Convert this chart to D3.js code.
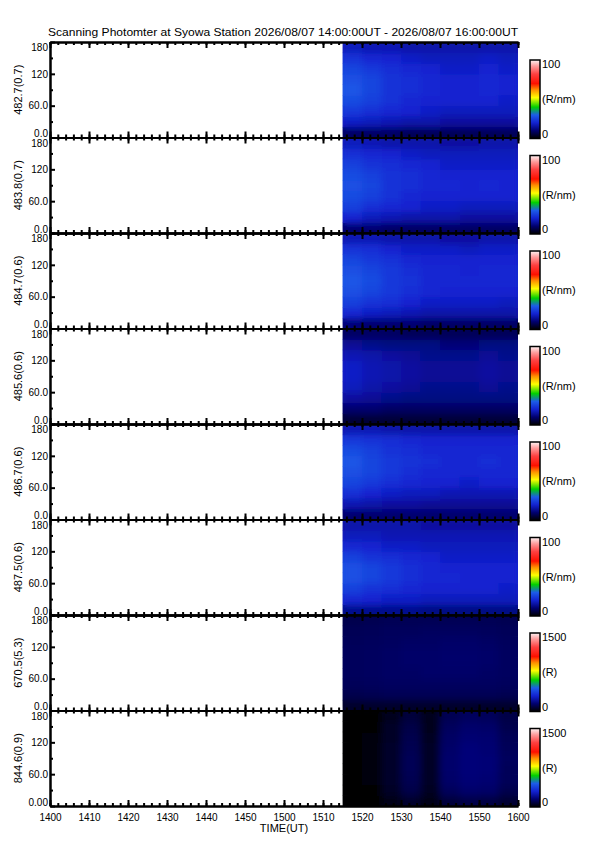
<!DOCTYPE html>
<html>
<head>
<meta charset="utf-8">
<script src="https://cdn.jsdelivr.net/npm/d3@7"></script>
<style>
  body { margin: 0; background: #fff; }
  text { font-family: "Liberation Sans", Arial, sans-serif; fill: #000; }
</style>
</head>
<body>
<div id="chart"></div>
<script>

const titleText = "Scanning Photomter at Syowa Station  2026/08/07 14:00:00UT - 2026/08/07 16:00:00UT";
const panelNames = ["482.7(0.7)", "483.8(0.7)", "484.7(0.6)", "485.6(0.6)", "486.7(0.6)", "487.5(0.6)", "670.5(5.3)", "844.6(0.9)"];
const panelUnits = ["(R/nm)", "(R/nm)", "(R/nm)", "(R/nm)", "(R/nm)", "(R/nm)", "(R)", "(R)"];
const panelMax = [100, 100, 100, 100, 100, 100, 1500, 1500];

// time bins (UT) and scan angle bins (deg)
const timeEdges = ["15:15", "15:20", "15:25", "15:30", "15:35", "15:40", "15:45", "15:50", "15:55", "16:00"];
const angleEdges = [0, 20, 40, 60, 80, 100, 120, 140, 160, 180];
const yTicks = [0, 60, 120, 180];
const yMinor = [30, 90, 150];

// rows: angle bin 0-20 first, cols: time bins
const p4827 = [
  [9, 9, 9, 8, 8, 8, 8, 8, 8],
  [19, 18, 17, 16, 16, 15, 15, 15, 15],
  [24, 22, 21, 20, 19, 18, 18, 18, 18],
  [27, 25, 23, 21, 20, 20, 20, 20, 19],
  [29, 26, 23, 22, 21, 20, 20, 21, 20],
  [28, 26, 23, 22, 21, 20, 20, 21, 20],
  [26, 24, 22, 21, 20, 19, 19, 20, 19],
  [23, 21, 20, 19, 18, 18, 18, 19, 18],
  [18, 17, 17, 16, 16, 16, 16, 16, 16]
];
const p4838 = [
  [10, 10, 9, 9, 9, 9, 9, 9, 9],
  [20, 18, 17, 16, 16, 16, 15, 15, 15],
  [25, 22, 21, 20, 19, 19, 18, 18, 18],
  [27, 25, 23, 21, 20, 20, 20, 20, 20],
  [28, 26, 23, 22, 21, 21, 20, 21, 20],
  [27, 25, 23, 22, 21, 20, 20, 20, 20],
  [25, 23, 22, 21, 20, 19, 19, 19, 19],
  [22, 21, 20, 19, 18, 18, 18, 18, 18],
  [18, 17, 16, 16, 16, 15, 15, 16, 16]
];
const p4847 = [
  [11, 10, 10, 10, 9, 9, 9, 9, 9],
  [21, 19, 18, 17, 16, 16, 16, 16, 16],
  [25, 23, 22, 20, 19, 19, 19, 19, 18],
  [28, 26, 24, 22, 21, 20, 20, 20, 20],
  [29, 27, 24, 23, 21, 21, 21, 21, 21],
  [28, 26, 24, 22, 21, 21, 20, 21, 21],
  [26, 24, 23, 21, 20, 20, 20, 20, 20],
  [23, 22, 20, 19, 19, 19, 18, 19, 19],
  [17, 17, 16, 16, 16, 15, 15, 16, 16]
];
const p4856 = [
  [5, 5, 5, 5, 5, 5, 5, 5, 5],
  [10, 10, 9, 9, 9, 9, 9, 9, 9],
  [15, 14, 13, 12, 12, 12, 12, 12, 12],
  [18, 16, 15, 14, 13, 13, 13, 14, 13],
  [19, 17, 16, 15, 14, 14, 14, 15, 14],
  [19, 17, 16, 15, 14, 14, 14, 15, 14],
  [17, 16, 15, 14, 13, 13, 13, 14, 13],
  [14, 13, 12, 12, 12, 11, 11, 12, 12],
  [9, 9, 9, 8, 8, 8, 8, 8, 8]
];
const p4867 = [
  [10, 10, 10, 10, 10, 10, 10, 10, 10],
  [17, 16, 15, 15, 14, 14, 14, 14, 14],
  [22, 20, 19, 18, 18, 17, 17, 17, 17],
  [26, 24, 22, 21, 20, 20, 19, 20, 20],
  [28, 26, 24, 22, 21, 21, 21, 21, 21],
  [29, 26, 24, 23, 22, 21, 21, 22, 21],
  [27, 25, 23, 22, 21, 21, 21, 21, 21],
  [24, 23, 22, 21, 20, 20, 20, 20, 20],
  [17, 17, 16, 16, 16, 16, 16, 16, 16]
];
const p4875 = [
  [13, 13, 13, 13, 12, 12, 12, 12, 12],
  [21, 20, 19, 19, 18, 18, 18, 18, 18],
  [25, 23, 22, 21, 20, 20, 20, 20, 19],
  [28, 26, 24, 22, 21, 21, 20, 20, 20],
  [28, 26, 24, 22, 21, 20, 20, 20, 20],
  [25, 23, 22, 21, 20, 19, 19, 19, 19],
  [21, 20, 19, 19, 18, 18, 18, 18, 18],
  [18, 18, 17, 17, 17, 17, 17, 17, 17],
  [16, 16, 16, 16, 15, 15, 15, 15, 15]
];
const p6705 = [
  [60, 60, 60, 60, 60, 60, 60, 60, 60],
  [105, 110, 115, 115, 115, 115, 115, 115, 110],
  [120, 125, 130, 130, 130, 130, 130, 130, 125],
  [125, 130, 135, 135, 140, 140, 140, 135, 130],
  [125, 130, 135, 140, 140, 145, 145, 140, 130],
  [125, 130, 135, 140, 140, 145, 145, 140, 130],
  [120, 125, 130, 135, 135, 140, 140, 135, 125],
  [115, 120, 125, 125, 130, 130, 130, 125, 120],
  [105, 110, 115, 115, 115, 115, 115, 115, 110]
];
const p8446 = [
  [5, 5, 30, 60, 25, 80, 95, 90, 70],
  [5, 8, 50, 100, 45, 125, 145, 140, 105],
  [5, 10, 60, 110, 50, 140, 160, 155, 120],
  [5, 10, 60, 115, 50, 145, 165, 160, 120],
  [5, 10, 60, 115, 50, 145, 165, 160, 125],
  [5, 10, 60, 110, 50, 140, 165, 155, 120],
  [5, 10, 55, 105, 45, 135, 155, 150, 115],
  [5, 8, 50, 95, 40, 125, 145, 140, 105],
  [5, 8, 40, 80, 35, 110, 125, 120, 95]
];
const panelData = [p4827, p4838, p4847, p4856, p4867, p4875, p6705, p8446];

// colour table: black - blue - green - yellow - red - white
const cmapStops = [0, 0.1, 0.2, 0.3, 0.4, 0.52, 0.62, 0.7, 0.82, 0.92, 1];
const cmapColors = ["#000000", "#00006e", "#1222d0", "#1c5ce8", "#00d000", "#ffff00", "#ff9000", "#ff1000", "#ff4040", "#ff9a9a", "#fff4f4"];

let dim = {width: 595, height: 842, left: 50, right: 518, top: 42, bottom: 806};
let panelH = (dim.bottom - dim.top) / panelNames.length;

let svg = d3.select('#chart').append('svg')
    .attr('width', dim.width)
    .attr('height', dim.height);

let day = t => new Date("2026-08-07T" + t + ":00Z");

let scaleX = d3.scaleUtc()
    .domain([day("14:00"), day("16:00")])
    .range([dim.left, dim.right]);

let defs = svg.append('defs');
defs.append('filter').attr('id', 'soft')
    .attr('x', '-5%').attr('y', '-5%').attr('width', '110%').attr('height', '110%')
  .append('feGaussianBlur').attr('stdDeviation', 3.5);

let grad = defs.append('linearGradient').attr('id', 'cbar')
    .attr('x1', 0).attr('y1', 1).attr('x2', 0).attr('y2', 0);
cmapStops.forEach((s, i) => grad.append('stop').attr('offset', s).attr('stop-color', cmapColors[i]));

svg.append('text')
    .attr('x', 48).attr('y', 36)
    .attr('font-size', 11)
    .attr('textLength', 470).attr('lengthAdjust', 'spacingAndGlyphs')
    .text(titleText);

panelNames.forEach((name, p) => {
  let top = dim.top + p * panelH, bot = top + panelH;
  let scaleY = d3.scaleLinear().domain([0, 180]).range([bot, top]);
  let color = d3.scaleLinear()
      .domain(cmapStops.map(s => s * panelMax[p]))
      .range(cmapColors)
      .clamp(true);

  let cells = [];
  panelData[p].forEach((row, i) => row.forEach((v, j) => cells.push({i, j, v})));

  let clipId = 'clip' + p;
  defs.append('clipPath').attr('id', clipId)
    .append('rect')
      .attr('x', scaleX(day(timeEdges[0]))).attr('y', top)
      .attr('width', scaleX(day(timeEdges[timeEdges.length - 1])) - scaleX(day(timeEdges[0])))
      .attr('height', panelH);

  let drawCells = g => g.selectAll('rect')
      .data(cells)
      .enter()
      .append('rect')
      .attr('x', d => scaleX(day(timeEdges[d.j])))
      .attr('y', d => scaleY(angleEdges[d.i + 1]))
      .attr('width', d => scaleX(day(timeEdges[d.j + 1])) - scaleX(day(timeEdges[d.j])) + 0.5)
      .attr('height', d => scaleY(angleEdges[d.i]) - scaleY(angleEdges[d.i + 1]) + 0.5)
      .attr('fill', d => color(d.v));

  svg.append('g').attr('clip-path', `url(#${clipId})`).call(drawCells);
  svg.append('g').attr('clip-path', `url(#${clipId})`)
    .append('g').attr('filter', 'url(#soft)').call(drawCells);

  // time axes, ticks pointing inward
  let minor = d3.utcMinute.every(2).range(day("14:00"), day("16:00"));
  minor.push(day("16:00"));
  let major = d3.utcMinute.every(10).range(day("14:00"), day("16:00"));
  major.push(day("16:00"));

  let styleAxis = g => {
    g.selectAll('path, line').attr('stroke', '#000').attr('stroke-width', 2);
    g.selectAll('text').remove();
  };

  svg.append('g').attr('transform', `translate(0,${top})`)
      .call(d3.axisTop(scaleX).tickValues(minor).tickSize(-3).tickSizeOuter(0)).call(styleAxis);
  svg.append('g').attr('transform', `translate(0,${top})`)
      .call(d3.axisTop(scaleX).tickValues(major).tickSize(-6).tickSizeOuter(0)).call(styleAxis);
  svg.append('g').attr('transform', `translate(0,${bot})`)
      .call(d3.axisBottom(scaleX).tickValues(minor).tickSize(-3).tickSizeOuter(0)).call(styleAxis);
  let bottomAxis = svg.append('g').attr('transform', `translate(0,${bot})`)
      .call(d3.axisBottom(scaleX).tickValues(major).tickSize(-6).tickSizeOuter(0).tickPadding(8)
        .tickFormat(d3.utcFormat('%H%M')));
  bottomAxis.selectAll('path, line').attr('stroke', '#000').attr('stroke-width', 2);
  if (p < panelNames.length - 1) bottomAxis.selectAll('text').remove();
  else bottomAxis.selectAll('text').attr('font-size', 10).attr('fill', '#000')
      .attr('font-family', '"Liberation Sans", Arial, sans-serif');

  // angle axis
  let last = p === panelNames.length - 1;
  let yAxis = svg.append('g').attr('transform', `translate(${dim.left},0)`)
      .call(d3.axisLeft(scaleY).tickValues(yTicks).tickSize(-5).tickSizeOuter(0).tickPadding(2)
        .tickFormat(d => d === 0 ? (last ? "0.00" : "0.0") : d === 60 ? "60.0" : String(d)));
  yAxis.selectAll('path, line').attr('stroke', '#000').attr('stroke-width', 2);
  yAxis.selectAll('text').attr('font-size', 10).attr('fill', '#000')
      .attr('font-family', '"Liberation Sans", Arial, sans-serif')
      .attr('dy', d => d === 180 ? '0.85em' : d === 0 ? '-0.1em' : '0.32em');
  svg.append('g').attr('transform', `translate(${dim.left},0)`)
      .call(d3.axisLeft(scaleY).tickValues(yMinor).tickSize(-3).tickSizeOuter(0)).call(styleAxis);

  svg.append('text')
      .attr('transform', `translate(22,${(top + bot) / 2}) rotate(-90)`)
      .attr('text-anchor', 'middle')
      .attr('font-size', 11)
      .text(name);

  // colour bar
  let cbTop = top + 18, cbBot = bot + 1;
  svg.append('rect')
      .attr('x', 530).attr('y', cbTop)
      .attr('width', 10).attr('height', cbBot - cbTop)
      .attr('fill', 'url(#cbar)')
      .attr('stroke', '#000').attr('stroke-width', 1.5);
  svg.append('text').attr('x', 542).attr('y', cbTop + 8).attr('font-size', 11).text(panelMax[p]);
  svg.append('text').attr('x', 542).attr('y', (cbTop + cbBot) / 2 + 4).attr('font-size', 11).text(panelUnits[p]);
  svg.append('text').attr('x', 542).attr('y', cbBot - 1).attr('font-size', 11).text(0);
});

svg.append('text')
    .attr('x', (dim.left + dim.right) / 2).attr('y', 832)
    .attr('text-anchor', 'middle')
    .attr('font-size', 11)
    .text('TIME(UT)');

</script>
</body>
</html>
